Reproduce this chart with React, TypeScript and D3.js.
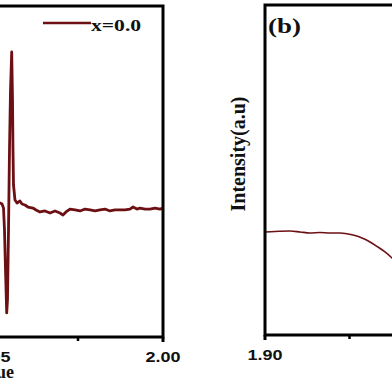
import React from "react";
import * as d3 from "d3";

// panel (a): EPR-like derivative signal vs g value
const leftG = [
  1.94912, 1.95206, 1.95265, 1.95309, 1.95338, 1.95368, 1.95403, 1.95426, 1.95456, 1.95485,
  1.95515, 1.9555, 1.95574, 1.95588, 1.95603, 1.95647, 1.95706, 1.95794, 1.95853, 1.95941,
  1.96029, 1.96176, 1.96265, 1.96382, 1.96529, 1.96676, 1.96824, 1.96971, 1.97059, 1.97147,
  1.97265, 1.97412, 1.97559, 1.97706, 1.97853, 1.98, 1.98147, 1.98294, 1.98441, 1.98588,
  1.98735, 1.98882, 1.99029, 1.99118, 1.99235, 1.99324, 1.99471, 1.99618, 1.99765, 1.99912, 2.0,
];
const leftI = [
  0.053, 0.053, 0.045, 0.013, -0.16, -0.474, -0.811, -0.709, -0.16, 0.469,
  0.94, 1.239, 0.862, 0.469, 0.194, 0.076, 0.053, 0.068, 0.045, 0.037,
  0.021, 0.013, -0.002, -0.018, -0.01, -0.026, -0.01, -0.026, -0.042, -0.018,
  0.005, -0.002, -0.01, 0.005, -0.002, -0.01, -0.002, 0.005, -0.01, -0.002,
  -0.002, -0.002, 0.005, 0.021, 0.005, 0.013, 0.005, 0.005, 0.013, 0.005, 0.013,
];

// panel (b)
const rightG = [
  1.9, 1.90296, 1.9074, 1.91036, 1.91331, 1.91627, 1.91923, 1.92219, 1.92456, 1.92663,
  1.9287, 1.93107, 1.93343, 1.9355, 1.93757, 1.93994,
];
const rightI = [
  -0.188, -0.184, -0.181, -0.188, -0.196, -0.192, -0.196, -0.196, -0.204, -0.216,
  -0.236, -0.267, -0.307, -0.346, -0.393, -0.456,
];

const leftMajor = [1.95, 2.0];
const leftMinor = [1.975];
const rightMajor = [1.9];
const rightMinor = [1.925];
const legendLabel = "x=0.0";

const lineColor = "#6d1014";

// text that is widened like the original figure
const Wide = ({ x, y, sx = 1.35, rotate = 0, anchor = "start", size, family, children }: any) => (
  <text
    transform={`translate(${x},${y}) scale(${sx},1) rotate(${rotate})`}
    textAnchor={anchor}
    fontSize={size}
    fontWeight="bold"
    fontFamily={family}
    fill="#111"
  >
    {children}
  </text>
);

const serif = "'Liberation Serif', 'Times New Roman', serif";
const sans = "'Liberation Sans', Arial, sans-serif";

export default function App() {
  const xL = d3.scaleLinear().domain([1.95, 2.0]).range([-7, 163]);
  const yL = d3.scaleLinear().domain([-1, 1.6]).range([337, 6]);
  const xR = d3.scaleLinear().domain([1.9, 1.95]).range([265, 434]);
  const yR = d3.scaleLinear().domain([-1, 1.6]).range([335, 5]);

  const leftPath = d3
    .line<number>()
    .x((g) => xL(g))
    .y((_, i) => yL(leftI[i]))(leftG);

  const rightPath = d3
    .line<number>()
    .curve(d3.curveMonotoneX)
    .x((g) => xR(g))
    .y((_, i) => yR(rightI[i]))(rightG);

  return (
    <svg
      width={392}
      height={392}
      style={{ position: "absolute", left: 0, top: 0, background: "#fff" }}
    >
      <defs>
        <clipPath id="clipL">
          <rect x={-20} y={yL(1.6)} width={xL(2.0) + 20} height={yL(-1) - yL(1.6)} />
        </clipPath>
        <clipPath id="clipR">
          <rect x={xR(1.9)} y={yR(1.6)} width={200} height={yR(-1) - yR(1.6)} />
        </clipPath>
      </defs>

      {/* panel (a) */}
      <path d={leftPath ?? ""} fill="none" stroke={lineColor} strokeWidth={2.8} strokeLinejoin="round" clipPath="url(#clipL)" />
      <rect x={-20} y={yL(1.6)} width={xL(2.0) + 20} height={yL(-1) - yL(1.6)} fill="none" stroke="#000" strokeWidth={3} />
      {leftMajor.map((t) => (
        <g key={t}>
          <line x1={xL(t)} x2={xL(t)} y1={yL(-1)} y2={yL(-1) + 5} stroke="#000" strokeWidth={3} />
          <Wide x={xL(t)} y={362} sx={1.2} anchor="middle" size={15} family={sans}>
            {t.toFixed(2)}
          </Wide>
        </g>
      ))}
      {leftMinor.map((t) => (
        <line key={t} x1={xL(t)} x2={xL(t)} y1={yL(-1)} y2={yL(-1) + 4} stroke="#000" strokeWidth={2.5} />
      ))}
      <Wide x={14} y={378} sx={1.0} anchor="end" size={18} family={serif}>
        g value
      </Wide>
      <line x1={43} x2={91} y1={23} y2={23} stroke={lineColor} strokeWidth={2.6} />
      <Wide x={91} y={31} size={16} family={serif}>
        {legendLabel}
      </Wide>

      {/* panel (b) */}
      <path d={rightPath ?? ""} fill="none" stroke={lineColor} strokeWidth={1.6} clipPath="url(#clipR)" />
      <rect x={xR(1.9)} y={yR(1.6)} width={200} height={yR(-1) - yR(1.6)} fill="none" stroke="#000" strokeWidth={3} />
      {rightMajor.map((t) => (
        <g key={t}>
          <line x1={xR(t)} x2={xR(t)} y1={yR(-1)} y2={yR(-1) + 5} stroke="#000" strokeWidth={3} />
          <Wide x={xR(t)} y={360} sx={1.2} anchor="middle" size={15} family={sans}>
            {t.toFixed(2)}
          </Wide>
        </g>
      ))}
      {rightMinor.map((t) => (
        <line key={t} x1={xR(t)} x2={xR(t)} y1={yR(-1)} y2={yR(-1) + 4} stroke="#000" strokeWidth={2.5} />
      ))}
      <Wide x={268} y={33} sx={1.35} size={20} family={serif}>
        (b)
      </Wide>
      <Wide x={245} y={154} sx={1.1} rotate={-90} anchor="middle" size={20} family={serif}>
        Intensity(a.u)
      </Wide>
    </svg>
  );
}
